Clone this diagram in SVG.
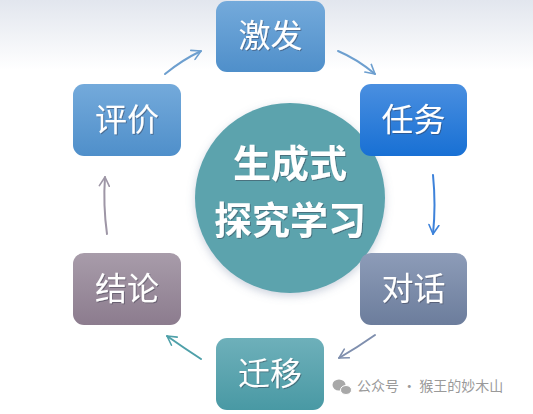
<svg xmlns="http://www.w3.org/2000/svg" width="533" height="414" viewBox="0 0 533 414">
<defs>
<linearGradient id="bg" x1="0" y1="0" x2="0" y2="1"><stop offset="0" stop-color="#e2e6ee"/><stop offset="1" stop-color="#ffffff"/></linearGradient>
<linearGradient id="gBlue" x1="0" y1="0" x2="0" y2="1"><stop offset="0" stop-color="#74aadb"/><stop offset="1" stop-color="#4f8fca"/></linearGradient>
<linearGradient id="gTask" x1="0" y1="0" x2="0" y2="1"><stop offset="0" stop-color="#4a8fe0"/><stop offset="1" stop-color="#1870d4"/></linearGradient>
<linearGradient id="gTalk" x1="0" y1="0" x2="0" y2="1"><stop offset="0" stop-color="#8d9cb8"/><stop offset="1" stop-color="#6c7d9c"/></linearGradient>
<linearGradient id="gConc" x1="0" y1="0" x2="0" y2="1"><stop offset="0" stop-color="#a89caa"/><stop offset="1" stop-color="#8c7c8e"/></linearGradient>
<linearGradient id="gMove" x1="0" y1="0" x2="0" y2="1"><stop offset="0" stop-color="#6eb0ba"/><stop offset="1" stop-color="#4999a4"/></linearGradient>
<filter id="sh" x="-20%" y="-20%" width="140%" height="140%"><feDropShadow dx="0" dy="3" stdDeviation="4" flood-color="#7080a0" flood-opacity="0.35"/></filter>
<filter id="tsh" x="-10%" y="-10%" width="120%" height="130%"><feDropShadow dx="1" dy="1" stdDeviation="0.6" flood-color="#334" flood-opacity="0.45"/></filter>
<marker id="ah" viewBox="0 0 12 12" refX="10" refY="6" markerWidth="12" markerHeight="12" markerUnits="userSpaceOnUse" orient="auto"><path d="M1,1 L10,6 L1,11" fill="none" stroke="context-stroke" stroke-width="1.6" stroke-linecap="round" stroke-linejoin="round"/></marker>
</defs>
<style>
.box{stroke:none}
.lbl{font-family:"Noto Sans CJK SC","Noto Sans CJK JP",sans-serif;font-size:32px;fill:#ffffff;text-anchor:middle;filter:url(#tsh)}
.ctr{font-family:"Noto Sans CJK SC","Noto Sans CJK JP",sans-serif;font-size:38px;font-weight:bold;fill:#ffffff;text-anchor:middle;filter:url(#tsh)}
.arr{fill:none;stroke-width:2;stroke-linecap:round;marker-end:url(#ah)}
.wm{font-family:"Noto Sans CJK SC","Noto Sans CJK JP",sans-serif;font-size:14px;fill:#9a9a9a}
</style>
<rect x="0" y="0" width="533" height="70" fill="url(#bg)"/>
<rect x="0" y="70" width="533" height="344" fill="#ffffff"/>

<g id="connectors">
<path class="arr" stroke="#6d9fcf" d="M165,74 Q182,60 201,51"/>
<path class="arr" stroke="#6d9fcf" d="M338,51 Q357,59 375,74"/>
<path class="arr" stroke="#3d82da" d="M433,175 Q436,205 433,234"/>
<path class="arr" stroke="#7f8fae" d="M375,335 Q358,347 339,358"/>
<path class="arr" stroke="#4ea0a9" d="M201,359 Q184,348 167,336"/>
<path class="arr" stroke="#9e96a6" d="M107,234 Q103,205 105,177"/>
</g>

<g id="center">
<circle cx="290" cy="198" r="95" fill="#5ba3ad" filter="url(#sh)"/>
<text class="ctr" x="290" y="177">生成式</text>
<text class="ctr" x="290" y="234">探究学习</text>
</g>

<g id="jifa">
<rect class="box" x="216" y="1" width="109" height="71" rx="11" fill="url(#gBlue)"/>
<text class="lbl" x="270.5" y="47">激发</text>
</g>
<g id="renwu">
<rect class="box" x="360" y="84" width="107" height="72" rx="11" fill="url(#gTask)"/>
<text class="lbl" x="413.5" y="131">任务</text>
</g>
<g id="duihua">
<rect class="box" x="360" y="253" width="107" height="72" rx="11" fill="url(#gTalk)"/>
<text class="lbl" x="413.5" y="300">对话</text>
</g>
<g id="qianyi">
<rect class="box" x="216" y="338" width="108" height="72" rx="11" fill="url(#gMove)"/>
<text class="lbl" x="270" y="385">迁移</text>
</g>
<g id="jielun">
<rect class="box" x="73" y="253" width="108" height="72" rx="11" fill="url(#gConc)"/>
<text class="lbl" x="127" y="300">结论</text>
</g>
<g id="pingjia">
<rect class="box" x="73" y="84" width="108" height="72" rx="11" fill="url(#gBlue)"/>
<text class="lbl" x="127" y="131">评价</text>
</g>

<g id="watermark">
<ellipse cx="339" cy="385" rx="6.5" ry="5.5" fill="#a8a8a8"/>
<ellipse cx="346" cy="390" rx="5.5" ry="4.5" fill="#a8a8a8" stroke="#fff" stroke-width="1"/>
<text class="wm" x="357" y="391">公众号 · 猴王的妙木山</text>
</g>
</svg>
